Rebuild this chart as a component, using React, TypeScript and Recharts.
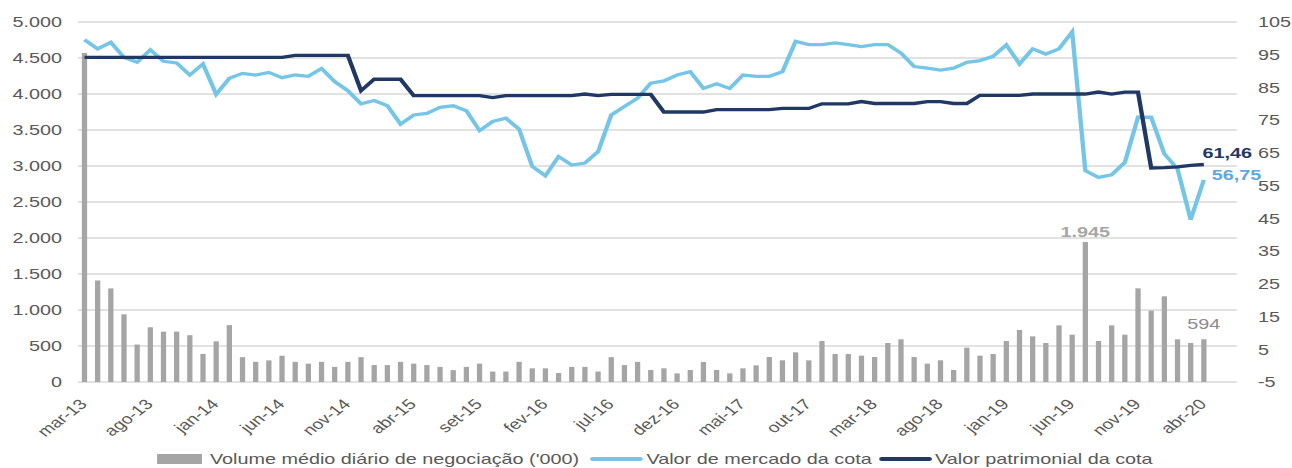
import React from 'react'
import { Bar, CartesianGrid, ComposedChart, LabelList, Line, XAxis, YAxis } from 'recharts'

const months = [
  'mar-13', 'abr-13', 'mai-13', 'jun-13', 'jul-13', 'ago-13', 'set-13', 'out-13', 'nov-13', 'dez-13',
  'jan-14', 'fev-14', 'mar-14', 'abr-14', 'mai-14', 'jun-14', 'jul-14', 'ago-14', 'set-14', 'out-14', 'nov-14', 'dez-14',
  'jan-15', 'fev-15', 'mar-15', 'abr-15', 'mai-15', 'jun-15', 'jul-15', 'ago-15', 'set-15', 'out-15', 'nov-15', 'dez-15',
  'jan-16', 'fev-16', 'mar-16', 'abr-16', 'mai-16', 'jun-16', 'jul-16', 'ago-16', 'set-16', 'out-16', 'nov-16', 'dez-16',
  'jan-17', 'fev-17', 'mar-17', 'abr-17', 'mai-17', 'jun-17', 'jul-17', 'ago-17', 'set-17', 'out-17', 'nov-17', 'dez-17',
  'jan-18', 'fev-18', 'mar-18', 'abr-18', 'mai-18', 'jun-18', 'jul-18', 'ago-18', 'set-18', 'out-18', 'nov-18', 'dez-18',
  'jan-19', 'fev-19', 'mar-19', 'abr-19', 'mai-19', 'jun-19', 'jul-19', 'ago-19', 'set-19', 'out-19', 'nov-19', 'dez-19',
  'jan-20', 'fev-20', 'mar-20', 'abr-20',
]

// volume médio diário ('000)
const volume = [
  4570, 1410, 1300, 940, 520, 760, 700, 700, 650, 390,
  565, 790, 345, 280, 300, 365, 280, 255, 280, 210, 280, 345,
  235, 235, 280, 255, 235, 210, 165, 210, 255, 145, 145, 280,
  190, 190, 125, 210, 210, 145, 345, 235, 280, 167, 190, 120,
  167, 278, 167, 120, 190, 231, 347, 301, 412, 301, 570, 389,
  389, 366, 347, 542, 593, 347, 255, 301, 167, 477, 366, 389,
  570, 722, 634, 542, 787, 657, 1945, 570, 787, 657, 1301, 991,
  1190, 593, 542, 594,
]

// valor de mercado da cota
const marketValue = [
  99.6, 96.8, 98.8, 94.2, 92.7, 96.5, 93.0, 92.5, 88.8, 92.2,
  82.9, 87.8, 89.3, 88.8, 89.6, 88.0, 88.8, 88.4, 90.8, 86.8, 84.0, 80.0,
  81.0, 79.4, 73.8, 76.6, 77.1, 78.9, 79.4, 77.9, 71.8, 74.6, 75.6, 72.3,
  60.9, 58.0, 63.9, 61.3, 61.9, 65.4, 76.6, 79.2, 81.7, 86.3, 87.0, 88.8,
  89.8, 84.7, 86.1, 84.7, 88.8, 88.4, 88.4, 89.8, 99.1, 98.1, 98.1, 98.6,
  98.1, 97.5, 98.1, 98.1, 95.5, 91.4, 90.9, 90.3, 90.9, 92.7, 93.2, 94.5,
  98.0, 92.2, 96.8, 95.2, 96.8, 102.0, 59.6, 57.5, 58.3, 62.1, 75.9, 75.9,
  64.7, 60.1, 44.6, 56.75,
]

// valor patrimonial da cota
const bookValue = [
  94.2, 94.2, 94.2, 94.2, 94.2, 94.2, 94.2, 94.2, 94.2, 94.2,
  94.2, 94.2, 94.2, 94.2, 94.2, 94.2, 94.8, 94.8, 94.8, 94.8, 94.8, 84.0,
  87.5, 87.5, 87.5, 82.5, 82.5, 82.5, 82.5, 82.5, 82.5, 81.9, 82.5, 82.5,
  82.5, 82.5, 82.5, 82.5, 83.0, 82.5, 82.9, 82.9, 82.9, 82.9, 77.5, 77.5,
  77.5, 77.5, 78.2, 78.2, 78.2, 78.2, 78.2, 78.6, 78.6, 78.6, 80.0, 80.0,
  80.0, 80.7, 80.1, 80.1, 80.1, 80.1, 80.7, 80.7, 80.1, 80.1, 82.6, 82.6,
  82.6, 82.6, 83.0, 83.0, 83.0, 83.0, 83.0, 83.6, 83.0, 83.6, 83.6, 60.4,
  60.5, 60.7, 61.2, 61.46,
]

const leftTicks = [0, 500, 1000, 1500, 2000, 2500, 3000, 3500, 4000, 4500, 5000]
const rightTicks = [-5, 5, 15, 25, 35, 45, 55, 65, 75, 85, 95, 105]

const data = months.map((month, i) => ({
  month,
  volume: volume[i],
  market: marketValue[i],
  book: bookValue[i],
}))

const PEAK = volume.indexOf(Math.max(...volume.slice(1)))
const LAST = months.length - 1

// the original picture is stretched sideways, so draw narrow and scale x
const SX = 1.32
const W = 979
const H = 468
const FONT = '"Liberation Sans", Arial, sans-serif'
const AXIS_GREY = '#595959'
const BAR_GREY = '#A5A5A5'
const LIGHT = '#75C6E6'
const NAVY = '#1F3864'

const thousands = (v: number) => String(v).replace(/\B(?=(\d{3})+(?!\d))/g, '.')
const decimal = (v: number) => v.toFixed(2).replace('.', ',')

const MonthTick = ({ x, y, payload }: any) => {
  const bx = x + 2.8
  const by = y + 23
  return (
    <text
      x={bx}
      y={by}
      textAnchor="end"
      transform={`rotate(-45 ${bx} ${by})`}
      fill={AXIS_GREY}
      fontSize={14.5}
      fontFamily={FONT}
    >
      {payload.value}
    </text>
  )
}

const volumeLabel = (props: any) => {
  const { x, y, width, value, index } = props
  if (index === PEAK) {
    return (
      <text x={x + width / 2} y={y - 5} textAnchor="middle" fill="#A6A6A6" fontWeight="bold" fontSize={15} fontFamily={FONT}>
        {thousands(value)}
      </text>
    )
  }
  if (index === LAST) {
    return (
      <text x={x + width / 2} y={y - 10} textAnchor="middle" fill="#8C8C8C" fontSize={15} fontFamily={FONT}>
        {thousands(value)}
      </text>
    )
  }
  return null
}

const marketLabel = (props: any) => {
  const { x, y, value, index } = props
  if (index !== LAST) return null
  return (
    <text x={x + 6} y={y - 5} dominantBaseline="central" fill="#5FA8DF" fontWeight="bold" fontSize={15} fontFamily={FONT}>
      {decimal(value)}
    </text>
  )
}

const bookLabel = (props: any) => {
  const { x, y, value, index } = props
  if (index !== LAST) return null
  return (
    <text x={x - 1} y={y - 11.5} dominantBaseline="central" fill={NAVY} fontWeight="bold" fontSize={15} fontFamily={FONT}>
      {decimal(value)}
    </text>
  )
}

function ChartLegend() {
  const text = { fontSize: 15, color: AXIS_GREY, whiteSpace: 'nowrap' as const }
  return (
    <div
      style={{
        position: 'absolute',
        left: 119,
        top: 450,
        height: 18,
        lineHeight: '18px',
        display: 'flex',
        alignItems: 'center',
        fontFamily: FONT,
      }}
    >
      <span style={{ width: 34, height: 10, background: BAR_GREY, marginRight: 6 }} />
      <span style={text}>Volume médio diário de negociação ('000)</span>
      <span style={{ width: 40, height: 3.5, borderRadius: 2, background: LIGHT, marginLeft: 8, marginRight: 3 }} />
      <span style={text}>Valor de mercado da cota</span>
      <span style={{ width: 40, height: 3.5, borderRadius: 2, background: NAVY, marginLeft: 6, marginRight: 2 }} />
      <span style={text}>Valor patrimonial da cota</span>
    </div>
  )
}

export default function App() {
  return (
    <div style={{ position: 'absolute', left: 0, top: 0, width: 1292, height: 468, overflow: 'hidden', background: '#fff' }}>
      <div style={{ position: 'relative', width: W, height: H, transform: `scaleX(${SX})`, transformOrigin: '0 0' }}>
        <ComposedChart width={W} height={H} data={data} margin={{ top: 22, right: 0, bottom: 0, left: 0 }}>
          <CartesianGrid vertical={false} stroke="#D9D9D9" strokeWidth={1.5} />
          <XAxis
            dataKey="month"
            height={86}
            interval={4}
            axisLine={false}
            tickLine={false}
            tickSize={0}
            tickMargin={0}
            padding={{ left: 0, right: 20 }}
            tick={<MonthTick />}
          />
          <YAxis
            domain={[0, 5000]}
            ticks={leftTicks}
            width={59}
            axisLine={false}
            tickLine={false}
            tickSize={0}
            tickMargin={12}
            tickFormatter={thousands}
            tick={{ fill: AXIS_GREY, fontSize: 15, fontFamily: FONT }}
          />
          <YAxis
            yAxisId="right"
            orientation="right"
            domain={[-5, 105]}
            ticks={rightTicks}
            width={42}
            axisLine={false}
            tickLine={false}
            tickSize={0}
            tickMargin={16}
            tick={{ fill: AXIS_GREY, fontSize: 15, fontFamily: FONT }}
          />
          <Bar dataKey="volume" fill={BAR_GREY} barSize={4} isAnimationActive={false}>
            <LabelList dataKey="volume" content={volumeLabel} />
          </Bar>
          <Line
            yAxisId="right"
            type="linear"
            dataKey="market"
            stroke={LIGHT}
            strokeWidth={3.3}
            dot={false}
            isAnimationActive={false}
          >
            <LabelList dataKey="market" content={marketLabel} />
          </Line>
          <Line
            yAxisId="right"
            type="linear"
            dataKey="book"
            stroke={NAVY}
            strokeWidth={3.3}
            dot={false}
            isAnimationActive={false}
          >
            <LabelList dataKey="book" content={bookLabel} />
          </Line>
        </ComposedChart>
        <ChartLegend />
      </div>
    </div>
  )
}
